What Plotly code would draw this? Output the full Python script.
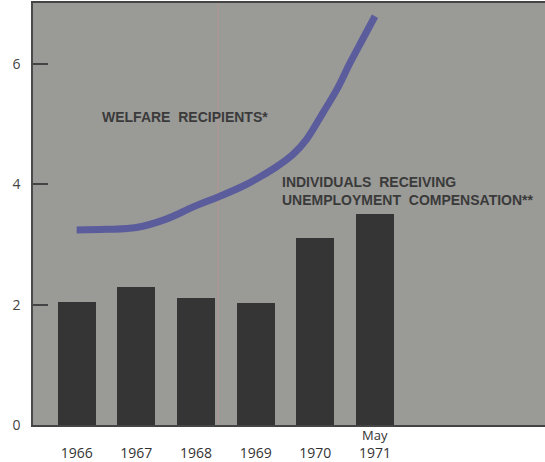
import plotly.graph_objects as go

# Categories (x positions 0..5)
years = ["1966", "1967", "1968", "1969", "1970", "1971"]
last_year_note = "May"
year_pos = [0, 1, 2, 3, 4, 5]

# Individuals receiving unemployment compensation (bars)
unemployment = [2.04, 2.30, 2.11, 2.03, 3.11, 3.50]

# Welfare recipients (curve)
welfare_x = [0.0, 0.5, 1.0, 1.5, 1.95, 2.4, 2.79, 3.07, 3.35, 3.63, 3.85, 4.13, 4.36, 4.58, 4.8, 5.0]
welfare_y = [3.24, 3.25, 3.28, 3.42, 3.62, 3.80, 3.97, 4.12, 4.29, 4.50, 4.74, 5.19, 5.57, 6.01, 6.42, 6.79]

y_ticks = [0, 2, 4, 6]

fig = go.Figure()

fig.add_trace(go.Bar(
    x=year_pos, y=unemployment, width=0.64,
    marker=dict(color="#353535", line=dict(width=0)),
    showlegend=False, hoverinfo="skip",
))

fig.add_trace(go.Scatter(
    x=welfare_x, y=welfare_y, mode="lines",
    line=dict(color="#5a5c9c", width=7, shape="spline", smoothing=1.0),
    showlegend=False, hoverinfo="skip",
))

# faint print-fold line visible in the original scan
fig.add_shape(type="line", xref="x", yref="paper", x0=2.37, x1=2.37, y0=0, y1=1,
              line=dict(color="rgba(196,150,140,0.35)", width=2), layer="below")

label_font = dict(family="Liberation Sans, Arial, sans-serif", color="#3a3a3a", weight="bold")

fig.add_annotation(x=0.39, y=5.12, xref="x", yref="y", text="WELFARE\u00a0 RECIPIENTS*",
                   showarrow=False, xanchor="left", yanchor="middle",
                   font=dict(size=14, **label_font))
fig.add_annotation(x=3.40, y=3.88, xref="x", yref="y",
                   text="INDIVIDUALS\u00a0 RECEIVING<br>UNEMPLOYMENT\u00a0 COMPENSATION**",
                   showarrow=False, xanchor="left", yanchor="middle", align="left",
                   font=dict(size=14, **label_font))

fig.add_annotation(x=year_pos[-1], y=0, xref="x", yref="paper", text=last_year_note,
                   showarrow=False, xanchor="center", yanchor="top", yshift=0, borderpad=0,
                   font=dict(family="Open Sans, sans-serif", size=13, color="#333333"))

fig.update_layout(
    width=545, height=462,
    margin=dict(l=33, r=0, t=3, b=37, autoexpand=False),
    paper_bgcolor="white",
    plot_bgcolor="#9a9a97",
    bargap=0,
    xaxis=dict(
        range=[-0.732, 7.85],
        tickvals=year_pos, ticktext=years,
        showgrid=False, zeroline=False,
        showline=True, linecolor="#444444", linewidth=2, mirror=True,
        ticks="",
        ticklabelstandoff=14,
        tickfont=dict(family="Open Sans, sans-serif", size=14, color="#333333"),
        automargin=False,
        fixedrange=True,
    ),
    yaxis=dict(
        range=[0, 7.01],
        tickvals=y_ticks, ticktext=[str(v) for v in y_ticks],
        showgrid=False, zeroline=False,
        showline=True, linecolor="#4a4a4a", linewidth=1.5,
        ticks="inside", ticklen=15, tickwidth=1.5, tickcolor="#444444",
        ticklabelstandoff=8,
        tickfont=dict(family="Open Sans, sans-serif", size=14, color="#444444"),
        automargin=False,
        fixedrange=True,
    ),
)

fig.write_html(
    "out.html",
    config={"displayModeBar": False},
    post_script="document.body.style.margin='0';document.body.style.padding='0';",
)
